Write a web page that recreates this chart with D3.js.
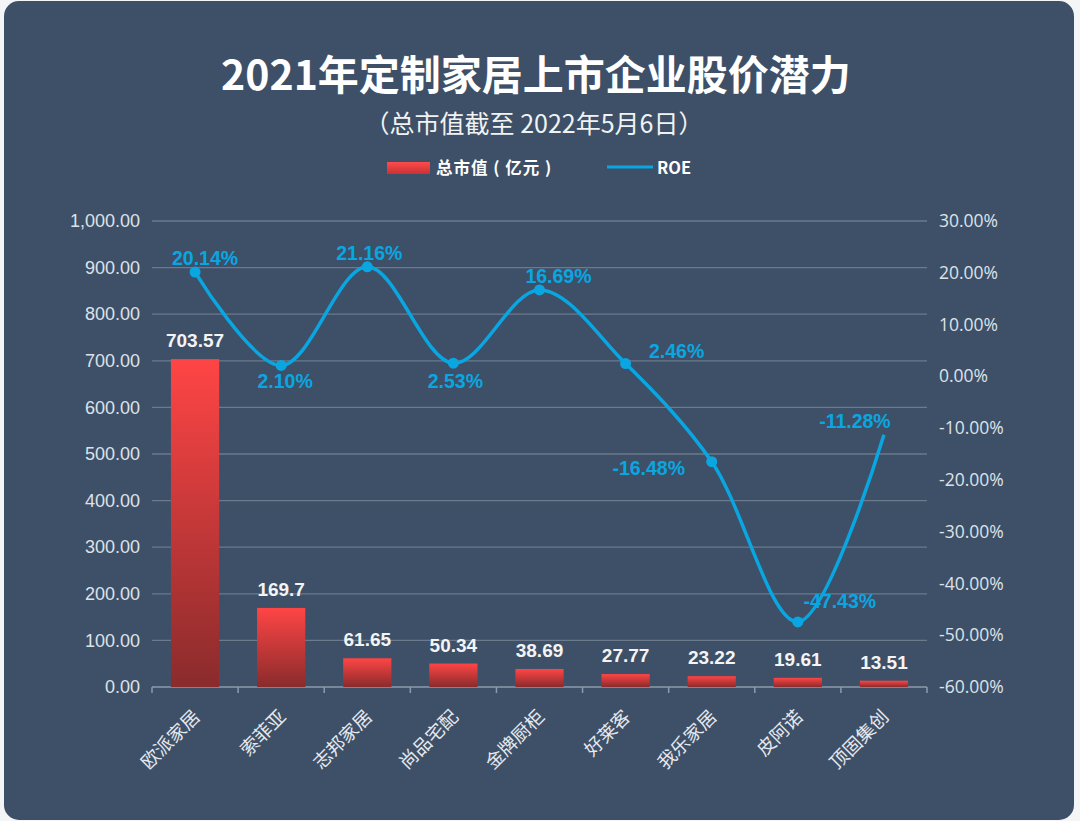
<!DOCTYPE html>
<html>
<head>
<meta charset="utf-8">
<script src="https://cdn.jsdelivr.net/npm/d3@7"></script>
<style>
  html, body { margin: 0; padding: 0; background: #f4f5f6; }
  svg { display: block; }
</style>
</head>
<body>
<div id="chart"></div>
<script>
// data
const companies = ['欧派家居', '索菲亚', '志邦家居', '尚品宅配', '金牌厨柜', '好莱客', '我乐家居', '皮阿诺', '顶固集创']
const marketCap = [703.57, 169.7, 61.65, 50.34, 38.69, 27.77, 23.22, 19.61, 13.51] // 亿元
const roe = [20.14, 2.10, 21.16, 2.53, 16.69, 2.46, -16.48, -47.43, -11.28] // %
const leftTicks = [0, 100, 200, 300, 400, 500, 600, 700, 800, 900, 1000]
const rightTicks = [30, 20, 10, 0, -10, -20, -30, -40, -50, -60]

const W = 1080, H = 821
const margin = {top: 221, right: 153, bottom: 134, left: 152} // plot = 152..927 x 221..687

const svg = d3.select('#chart').append('svg')
  .attr('width', W)
  .attr('height', H)

// card background
svg.append('rect')
  .attr('x', 4).attr('y', 1)
  .attr('width', 1070).attr('height', 819)
  .attr('rx', 15)
  .attr('fill', '#3d5068')

const defs = svg.append('defs')
const grad = defs.append('linearGradient')
  .attr('id', 'barGrad')
  .attr('x1', 0).attr('y1', 0).attr('x2', 0).attr('y2', 1)
grad.append('stop').attr('offset', '0%').attr('stop-color', '#ff4545')
grad.append('stop').attr('offset', '100%').attr('stop-color', '#8a2b2c')

const legGrad = defs.append('linearGradient')
  .attr('id', 'legGrad')
  .attr('x1', 0).attr('y1', 0).attr('x2', 0).attr('y2', 1)
legGrad.append('stop').attr('offset', '0%').attr('stop-color', '#ff4a4a')
legGrad.append('stop').attr('offset', '100%').attr('stop-color', '#c93234')

const pct = v => v.toFixed(2) + '%'

// titles
svg.append('text')
  .attr('x', 536).attr('y', 90)
  .attr('text-anchor', 'middle')
  .style('font-family', '"Noto Sans CJK SC", sans-serif')
  .style('font-weight', 'bold')
  .style('font-size', '41px')
  .attr('fill', '#ffffff')
  .text('2021年定制家居上市企业股价潜力')

svg.append('text')
  .attr('x', 534).attr('y', 133)
  .attr('text-anchor', 'middle')
  .style('font-family', '"Noto Sans CJK SC", sans-serif')
  .style('font-size', '25px')
  .attr('fill', '#f2f2f2')
  .text('（总市值截至 2022年5月6日）')

// legend
svg.append('rect')
  .attr('x', 387).attr('y', 162).attr('width', 43).attr('height', 12)
  .attr('fill', 'url(#legGrad)')
svg.append('text')
  .attr('x', 436).attr('y', 174)
  .style('font-family', '"Noto Sans CJK SC", sans-serif')
  .style('font-weight', 'bold')
  .style('font-size', '16.5px')
  .style('letter-spacing', '1px')
  .attr('fill', '#ffffff')
  .text('总市值 ( 亿元 )')
svg.append('line')
  .attr('x1', 607).attr('x2', 653).attr('y1', 167).attr('y2', 167)
  .attr('stroke', '#0aa6e2').attr('stroke-width', 3)
svg.append('text')
  .attr('x', 657).attr('y', 174)
  .style('font-family', '"Noto Sans CJK SC", sans-serif')
  .style('font-weight', 'bold')
  .style('font-size', '16.5px')
  .attr('fill', '#ffffff')
  .text('ROE')

// scales
const x = d3.scaleBand()
  .domain(companies)
  .range([margin.left, W - margin.right])
  .paddingInner(0.44)
  .paddingOuter(0.22)

const xb = d3.scaleBand() // full band for ticks / line points
  .domain(companies)
  .range([margin.left, W - margin.right])

const y = d3.scaleLinear()
  .domain([0, 1000])
  .range([H - margin.bottom, margin.top])

const y2 = d3.scaleLinear()
  .domain([-60, 30])
  .range([H - margin.bottom, margin.top])

// gridlines
svg.append('g')
  .selectAll('line')
  .data(leftTicks.slice(1))
  .enter()
  .append('line')
  .attr('x1', margin.left).attr('x2', W - margin.right)
  .attr('y1', d => y(d)).attr('y2', d => y(d))
  .attr('stroke', '#6b7a8d').attr('stroke-width', 1.3)

// left axis
const yAxis = d3.axisLeft(y)
  .tickValues(leftTicks)
  .tickSize(0)
  .tickPadding(12)
  .tickFormat(d3.format(',.2f'))
const gy = svg.append('g')
  .attr('transform', `translate(${margin.left},0)`)
  .call(yAxis)
gy.select('.domain').remove()
gy.selectAll('text')
  .style('font-family', '"Liberation Sans", Arial, sans-serif')
  .style('font-size', '18px')
  .attr('fill', '#dde2e8')

// right axis
const y2Axis = d3.axisRight(y2)
  .tickValues(rightTicks)
  .tickSize(0)
  .tickPadding(12)
  .tickFormat(pct)
const gy2 = svg.append('g')
  .attr('transform', `translate(${W - margin.right},0)`)
  .call(y2Axis)
gy2.select('.domain').remove()
gy2.selectAll('text')
  .style('font-family', '"Open Sans", sans-serif')
  .style('font-size', '17.5px')
  .attr('fill', '#dde2e8')

// x axis: line + ticks at band edges
const xAxisG = svg.append('g')
  .attr('transform', `translate(0,${y(0)})`)
xAxisG.append('line')
  .attr('x1', margin.left).attr('x2', W - margin.right)
  .attr('stroke', '#8e9aab').attr('stroke-width', 1.5)
xAxisG.selectAll('.tk')
  .data(companies.concat(['__end']))
  .enter()
  .append('line')
  .attr('class', 'tk')
  .attr('x1', d => d === '__end' ? W - margin.right : xb(d))
  .attr('x2', d => d === '__end' ? W - margin.right : xb(d))
  .attr('y1', 0).attr('y2', 6)
  .attr('stroke', '#8e9aab').attr('stroke-width', 1.5)

xAxisG.selectAll('.cat')
  .data(companies)
  .enter()
  .append('text')
  .attr('class', 'cat')
  .attr('text-anchor', 'end')
  .attr('transform', d => `translate(${xb(d) + xb.bandwidth() / 2 + 6},${31}) rotate(-45)`)
  .style('font-family', '"Noto Sans CJK SC", sans-serif')
  .style('font-size', '18.5px')
  .attr('fill', '#e6e9ee')
  .text(d => d)

// bars
const bars = marketCap.map((v, i) => ({name: companies[i], v: v}))
svg.append('g')
  .selectAll('rect')
  .data(bars)
  .enter()
  .append('rect')
  .attr('x', d => x(d.name))
  .attr('width', x.bandwidth())
  .attr('y', d => y(d.v))
  .attr('height', d => y(0) - y(d.v))
  .attr('fill', 'url(#barGrad)')

svg.append('g')
  .selectAll('text')
  .data(bars)
  .enter()
  .append('text')
  .attr('x', d => x(d.name) + x.bandwidth() / 2)
  .attr('y', d => y(d.v) - 12)
  .attr('text-anchor', 'middle')
  .style('font-family', '"Liberation Sans", Arial, sans-serif')
  .style('font-weight', 'bold')
  .style('font-size', '19px')
  .attr('fill', '#f4f4f4')
  .text(d => d.v)

// ROE line
const pts = roe.map((v, i) => ({name: companies[i], v: v}))
const cx = d => xb(d.name) + xb.bandwidth() / 2

const line = d3.line()
  .x(cx)
  .y(d => y2(d.v))
  .curve(d3.curveCatmullRom.alpha(0.5))

svg.append('path')
  .datum(pts)
  .attr('d', line)
  .attr('fill', 'none')
  .attr('stroke', '#0aa6e2')
  .attr('stroke-width', 3.5)

svg.append('g')
  .selectAll('circle')
  .data(pts.slice(0, -1))
  .enter()
  .append('circle')
  .attr('cx', cx)
  .attr('cy', d => y2(d.v))
  .attr('r', 5.5)
  .attr('fill', '#0aa6e2')

// where each ROE label sits relative to its point
const labelOffsets = [[10, -7], [4, 23], [2, -7], [2, 25], [19, -7], [51, -6], [-63, 13], [42, -14], [-29, -7]]
svg.append('g')
  .selectAll('text')
  .data(pts)
  .enter()
  .append('text')
  .attr('x', (d, i) => cx(d) + labelOffsets[i][0])
  .attr('y', (d, i) => y2(d.v) + labelOffsets[i][1])
  .attr('text-anchor', 'middle')
  .style('font-family', '"Liberation Sans", Arial, sans-serif')
  .style('font-size', '19.5px')
  .style('font-weight', 'bold')
  .attr('fill', '#0aa6e2')
  .text(d => pct(d.v))
</script>
</body>
</html>
